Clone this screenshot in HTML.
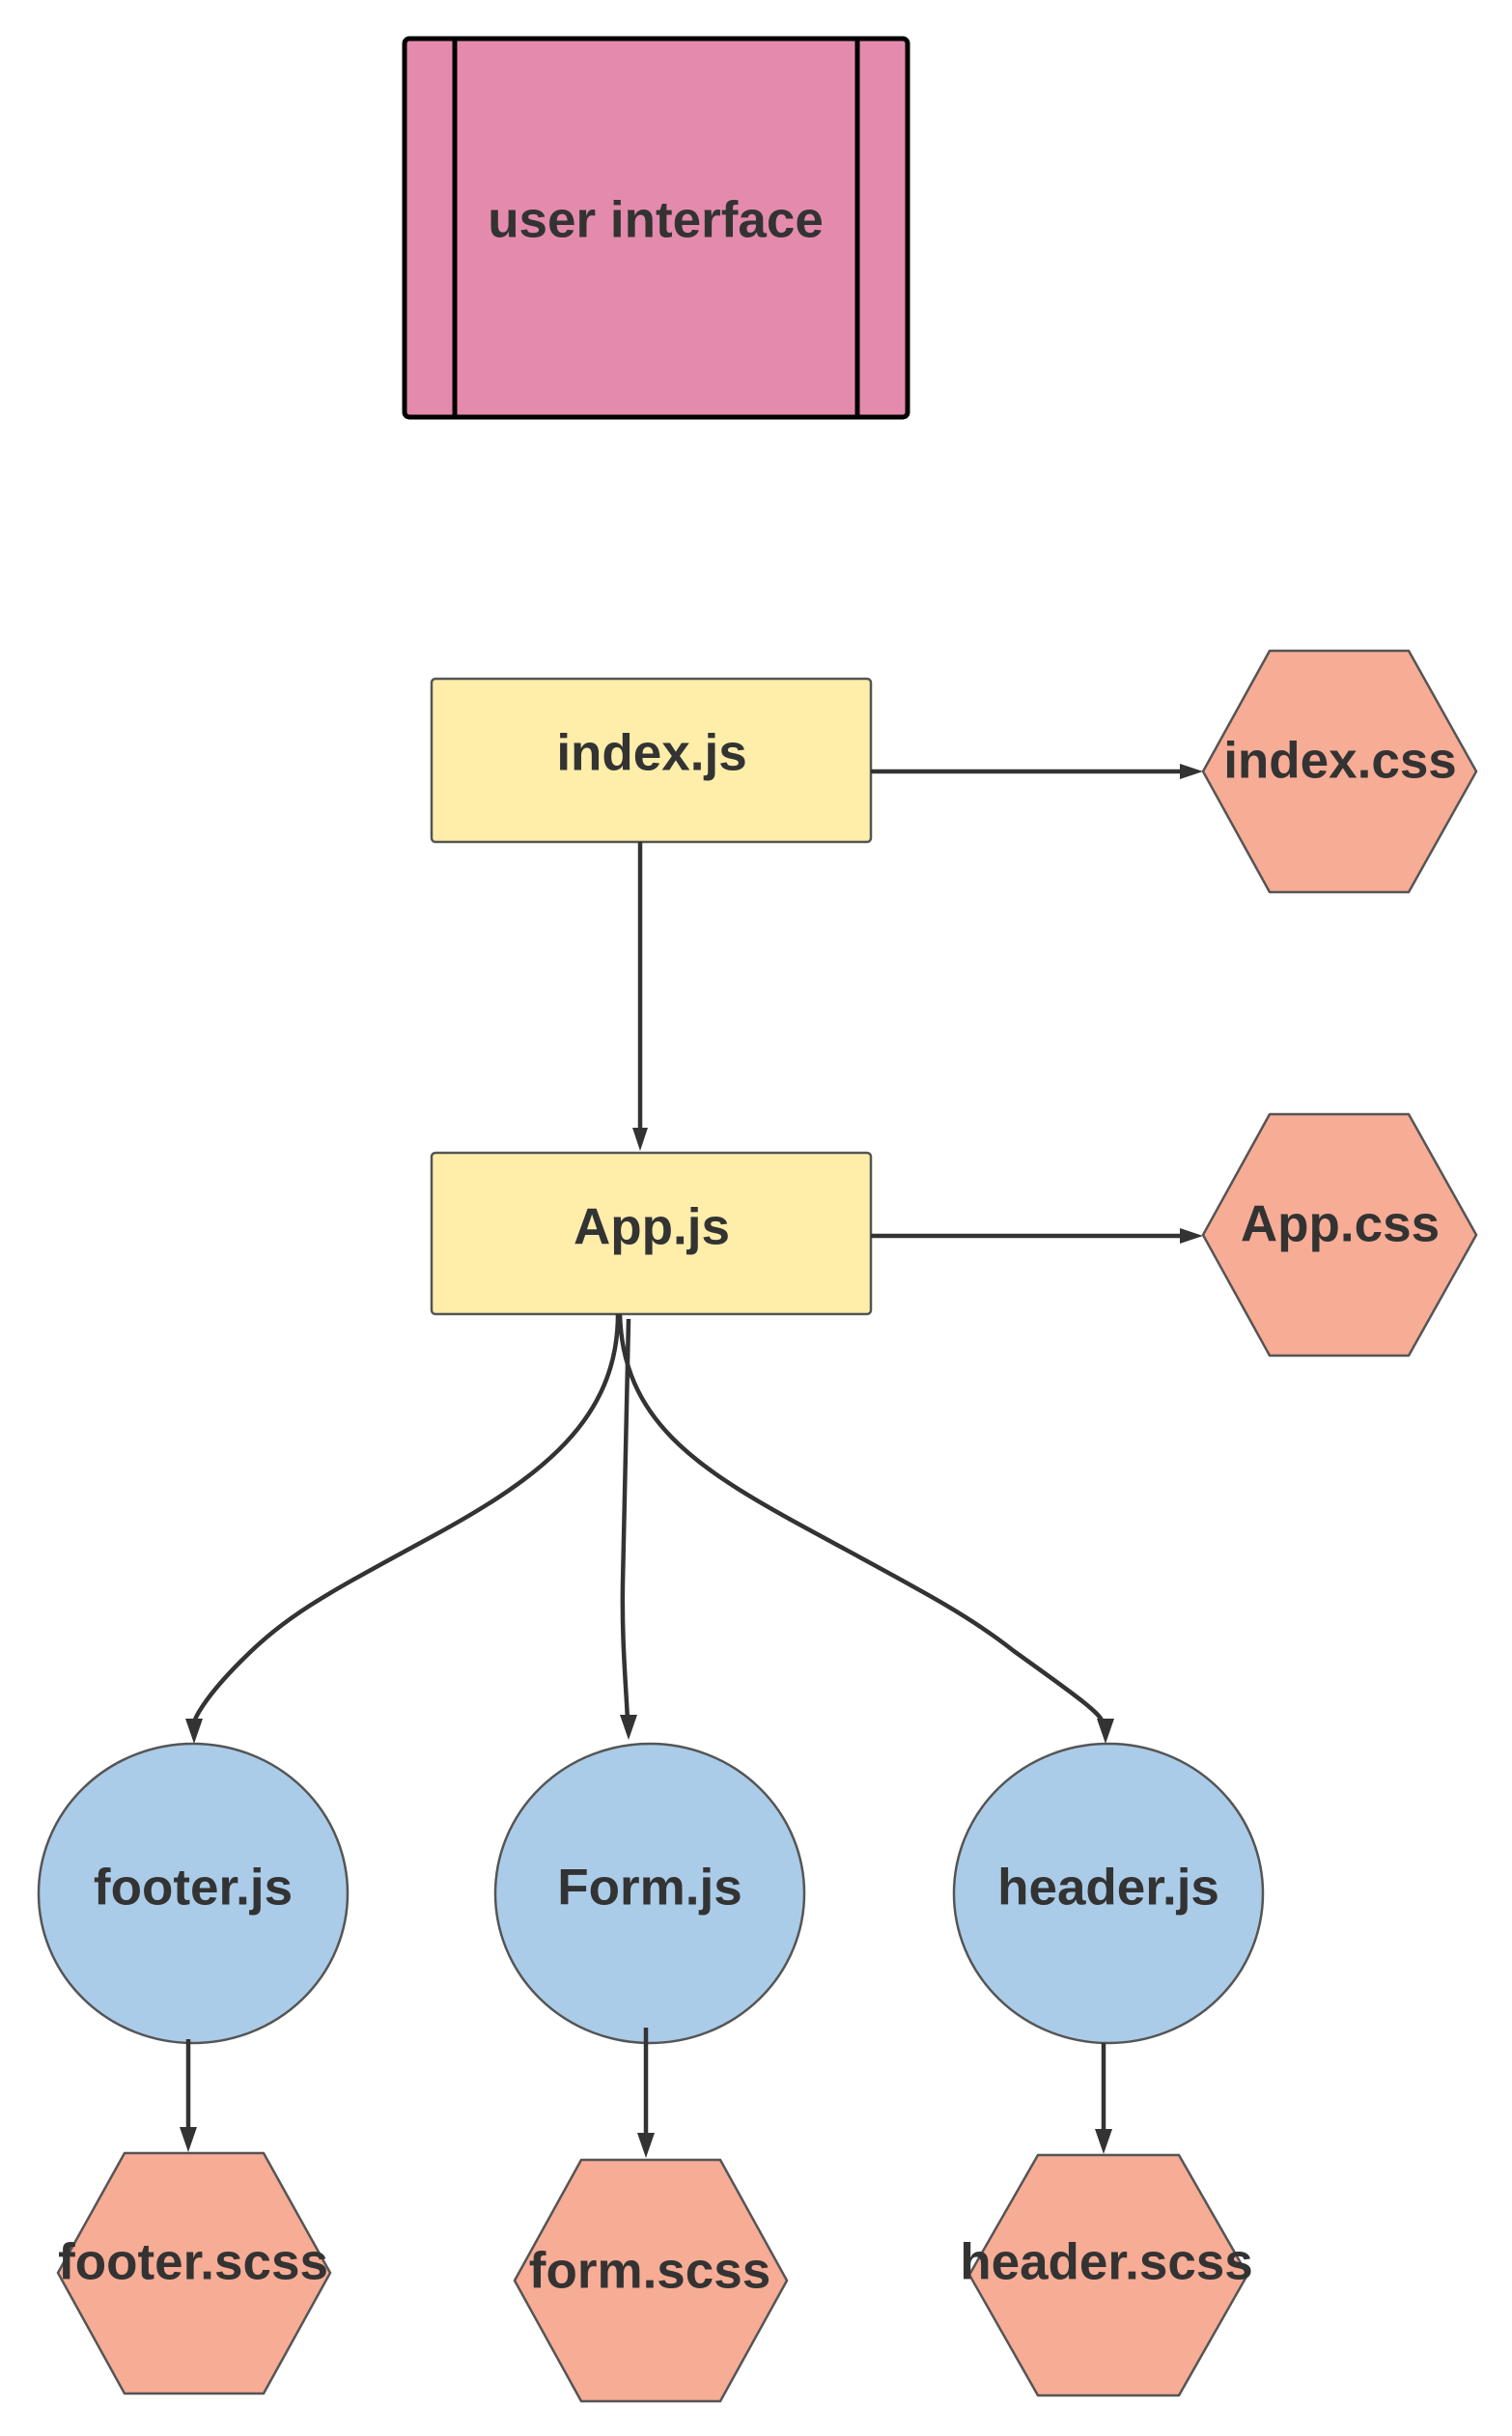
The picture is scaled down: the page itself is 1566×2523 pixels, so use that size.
<!DOCTYPE html>
<html><head><meta charset="utf-8"><style>
html,body{margin:0;padding:0;background:#fff;}
svg{display:block;}
text{font-family:"Liberation Sans",Arial,sans-serif;font-weight:bold;fill:#333;text-anchor:middle;dominant-baseline:central;}
</style></head><body>
<svg width="1566" height="2523" viewBox="0 0 1566 2523" xmlns="http://www.w3.org/2000/svg">
<!-- user interface -->
<rect x="419" y="40" width="521" height="392" rx="5" fill="#e48bad" stroke="#000" stroke-width="5"/>
<line x1="471" y1="40" x2="471" y2="432" stroke="#000" stroke-width="5"/>
<line x1="888" y1="40" x2="888" y2="432" stroke="#000" stroke-width="5"/>
<text x="679" y="228" font-size="53">user interface</text>

<!-- index.js -->
<rect x="447" y="703" width="455" height="169" rx="4" fill="#ffeeaa" stroke="#555" stroke-width="2.5"/>
<text x="675" y="780" font-size="53">index.js</text>
<!-- App.js -->
<rect x="447" y="1194" width="455" height="167" rx="4" fill="#ffeeaa" stroke="#555" stroke-width="2.5"/>
<text x="675" y="1271" font-size="53">App.js</text>

<!-- hexes -->
<g fill="#f7ac95" stroke="#555" stroke-width="2.5" stroke-linejoin="round">
<polygon points="1246,799 1315,674 1459,674 1529,799 1459,924 1315,924"/>
<polygon points="1246,1279 1315,1154 1459,1154 1529,1279 1459,1404 1315,1404"/>
<polygon points="60,2354 129,2230 273,2230 342,2354 273,2479 129,2479"/>
<polygon points="533,2362 602,2237 746,2237 815,2362 746,2487 602,2487"/>
<polygon points="1004,2356 1075,2232 1221,2232 1292,2356 1221,2481 1075,2481"/>
</g>
<text x="200" y="2343" font-size="53">footer.scss</text>
<text x="673" y="2352" font-size="53">form.scss</text>
<text x="1146" y="2343" font-size="53">header.scss</text>
<text x="1388" y="788" font-size="53">index.css</text>
<text x="1388" y="1268" font-size="53">App.css</text>

<!-- circles -->
<g fill="#aacce8" stroke="#555" stroke-width="2.5">
<ellipse cx="200" cy="1961" rx="160" ry="155"/>
<ellipse cx="673" cy="1961" rx="160" ry="155"/>
<ellipse cx="1148" cy="1961" rx="160" ry="155"/>
</g>
<text x="200" y="1955" font-size="53">footer.js</text>
<text x="673" y="1955" font-size="53">Form.js</text>
<text x="1148" y="1955" font-size="53">header.js</text>

<!-- connectors -->
<g stroke="#333" stroke-width="4.5" fill="none">
<line x1="902" y1="799" x2="1226" y2="799"/>
<line x1="663" y1="872" x2="663" y2="1170"/>
<line x1="902" y1="1280" x2="1226" y2="1280"/>
<path d="M640,1361 C640,1470 560,1530 450,1590 C340,1650 300,1670 250,1720 C210,1760 202,1780 201,1784"/>
<path d="M651,1366 L645,1640 C644,1700 648,1740 650,1782"/>
<path d="M642,1361 C645,1470 720,1520 830,1580 C940,1640 1000,1670 1050,1710 C1120,1760 1140,1775 1142,1784"/>
<line x1="195" y1="2112" x2="195" y2="2205"/>
<line x1="669" y1="2100" x2="669" y2="2212"/>
<line x1="1143" y1="2116" x2="1143" y2="2208"/>
</g>
<g fill="#333">
<polygon points="1246,799 1222,791 1222,807"/>
<polygon points="663,1192 655,1168 671,1168"/>
<polygon points="1246,1280 1222,1272 1222,1288"/>
<polygon points="201,1806 192,1780 210,1780"/>
<polygon points="651,1802 642,1776 660,1776"/>
<polygon points="1145,1806 1136,1780 1154,1780"/>
<polygon points="195,2229 186,2203 204,2203"/>
<polygon points="669,2235 660,2209 678,2209"/>
<polygon points="1143,2231 1134,2205 1152,2205"/>
</g>
</svg>
</body></html>
